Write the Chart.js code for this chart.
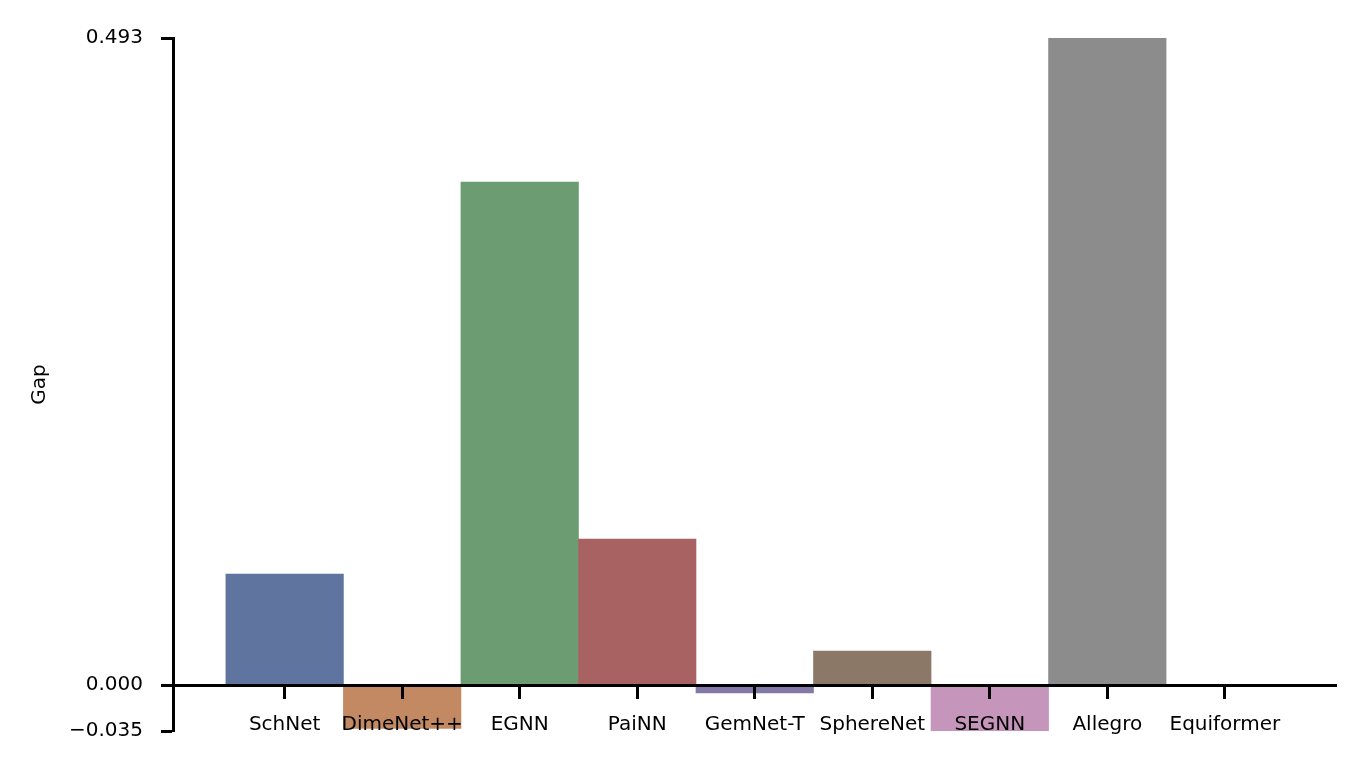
<!DOCTYPE html>
<html lang="en">
<head>
  <meta charset="UTF-8">
  <title>Gap by model</title>
  <script src="https://cdn.jsdelivr.net/npm/chart.js"></script>
  <style>
    html, body { margin: 0; padding: 0; background: #fff; }
    #wrap { width: 1365px; height: 773px; }
  </style>
</head>
<body>
  <div id="wrap">
    <canvas id="gapChart" width="1365" height="773"></canvas>
  </div>

  <script>
    // Data
    const models = ['SchNet', 'DimeNet++', 'EGNN', 'PaiNN', 'GemNet-T', 'SphereNet', 'SEGNN', 'Allegro', 'Equiformer'];
    const gapValues = [0.0846, -0.033, 0.3832, 0.1112, -0.006, 0.0259, -0.035, 0.493, 0];
    const barColors = ['#6074a0', '#c28962', '#6c9d72', '#a86262', '#8279a6', '#8b7866', '#c695bc', '#8c8c8c', '#d2bf88'];
    const yTickValues = [-0.035, 0, 0.493];

    Chart.defaults.font.family = 'DejaVu Sans';
    Chart.defaults.font.size = 20;
    Chart.defaults.color = '#000';

    // matplotlib style minus sign
    const fmt = v => (v < 0 ? '\u2212' : '') + Math.abs(v).toFixed(3);

    const ctx = document.getElementById('gapChart').getContext('2d');
    const gapChart = new Chart(ctx, {
      type: 'bar',
      data: {
        datasets: [{
          label: 'Gap',
          data: gapValues.map((v, i) => ({ x: i, y: v })),
          backgroundColor: barColors,
          borderWidth: 0,
          barPercentage: 1,
          categoryPercentage: 1
        }]
      },
      options: {
        responsive: false,
        animation: false,
        devicePixelRatio: 1,
        layout: { padding: { left: 0, top: 38, right: 28.5, bottom: 42 } },
        plugins: {
          legend: { display: false },
          tooltip: { enabled: false }
        },
        scales: {
          x: {
            type: 'linear',
            position: { y: 0 },
            offset: false,
            min: -0.95,
            max: 8.95,
            afterBuildTicks: scale => {
              scale.ticks = models.map((m, i) => ({ value: i }));
            },
            // z: 1 everywhere so the zero line, ticks and labels sit on top of the bars
            ticks: {
              z: 1,
              padding: 16,
              maxRotation: 0,
              autoSkip: false,
              callback: v => models[v]
            },
            grid: {
              z: 1,
              offset: false,
              drawOnChartArea: false,
              drawTicks: true,
              tickLength: 12,
              tickWidth: 3,
              tickColor: '#000'
            },
            border: { display: true, width: 3, color: '#000', z: 1 }
          },
          y: {
            min: -0.035,
            max: 0.493,
            afterBuildTicks: scale => {
              scale.ticks = yTickValues.map(v => ({ value: v }));
            },
            afterFit: scale => { scale.width = 173; },
            ticks: {
              padding: 18,
              callback: v => fmt(v)
            },
            grid: {
              drawOnChartArea: false,
              drawTicks: true,
              tickLength: 12,
              tickWidth: 3,
              tickColor: '#000'
            },
            border: { display: true, width: 3, color: '#000' },
            title: {
              display: true,
              text: 'Gap',
              padding: { top: 28, bottom: 0 }
            }
          }
        }
      }
    });
  </script>
</body>
</html>
